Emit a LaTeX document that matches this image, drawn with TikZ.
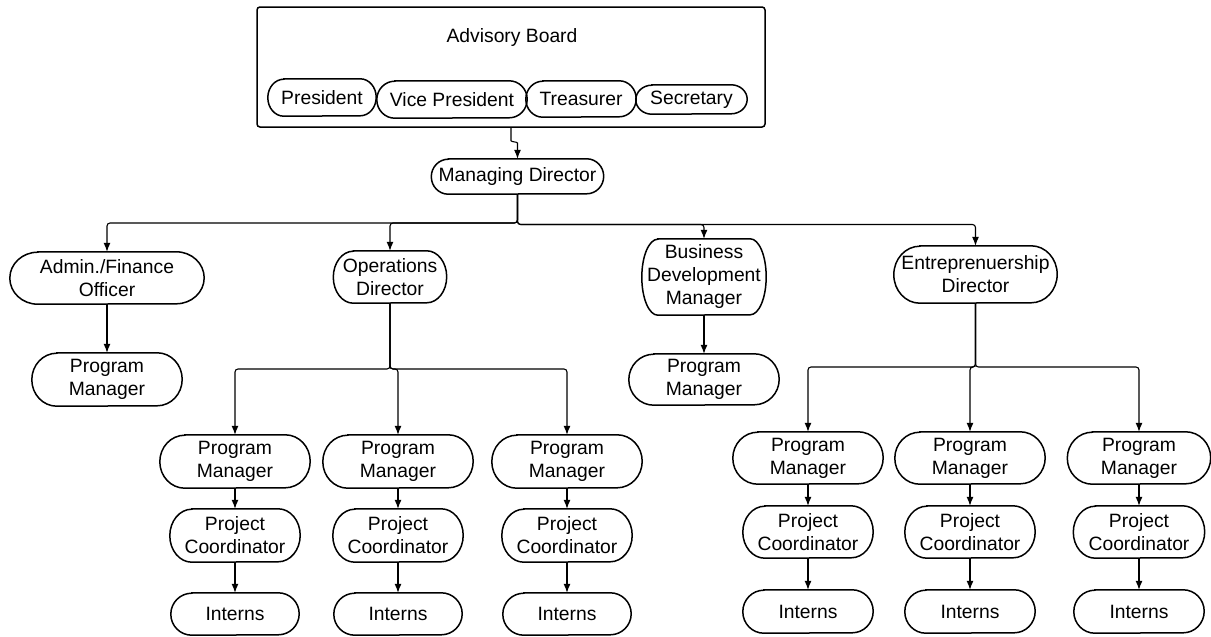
\documentclass[tikz,border=0pt]{standalone}
\usepackage{fontspec}
\setmainfont{Liberation Sans}
\usetikzlibrary{arrows.meta}

\tikzset{
  role/.style={inner sep=0pt, align=center, text=black,
    font=\fontsize{19.3}{23}\selectfont},
  outline/.style={line width=1.5pt, draw=black},
  conn/.style={line width=1.1pt, rounded corners=3pt,
    -{Latex[length=9pt,width=7pt]}},
}

% rounded terminator outline drawn round a named node: #2 = end x-radius, #3 = half height
\newcommand{\pilloutline}[3]{%
  \draw[outline] ([xshift=#2pt]#1.north west) -- ([xshift=-#2pt]#1.north east)
    arc[start angle=90,end angle=-90,x radius=#2pt,y radius=#3pt]
    -- ([xshift=#2pt]#1.south west)
    arc[start angle=270,end angle=90,x radius=#2pt,y radius=#3pt] -- cycle;}

\begin{document}
\begin{tikzpicture}[x=1pt,y=-1pt]
\useasboundingbox (0,0) rectangle (1211,637);

% Advisory board frame and its members
\node[outline, rounded corners=3pt, minimum width=508pt, minimum height=120pt, inner sep=0pt]
  (board) at (511,67) {};
\node[role] (boardtitle) at (512,38) {Advisory Board};
\node[role, minimum width=108pt, minimum height=37pt] (pres) at (322,97.5) {President};
\node[role, minimum width=150pt, minimum height=37pt] (vp) at (452,99.5) {Vice President};
\node[role, minimum width=110pt, minimum height=36pt] (treas) at (581,99) {Treasurer};
\node[role, minimum width=111pt, minimum height=29pt] (sec) at (691.5,99.5) {Secretary};

% Managing director
\node[role, minimum width=172pt, minimum height=35pt] (md) at (517.5,176.5) {Managing Director};

% Second level
\node[role, minimum width=194pt, minimum height=52pt] (admin) at (107,278) {Admin./Finance\\Officer};
\node[role, minimum width=150pt, minimum height=53pt] (apm) at (107,379.5) {Program\\Manager};
\node[role, minimum width=113pt, minimum height=52pt] (ops) at (390,277) {Operations\\Director};
\node[role, minimum width=124pt, minimum height=76pt] (bdm) at (704,277) {Business\\Development\\Manager};
\node[role, minimum width=150pt, minimum height=51pt] (bpm) at (704,379.5) {Program\\Manager};
\node[role, minimum width=163pt, minimum height=57pt] (entr) at (975.5,274.5) {Entreprenuership\\Director};

% Operations teams
\node[role, minimum width=150pt, minimum height=53pt] (opm1) at (235,461.5) {Program\\Manager};
\node[role, minimum width=150pt, minimum height=53pt] (opm2) at (398,461.5) {Program\\Manager};
\node[role, minimum width=150pt, minimum height=53pt] (opm3) at (567,461.5) {Program\\Manager};
\node[role, minimum width=130pt, minimum height=53pt] (opc1) at (235,535.5) {Project\\Coordinator};
\node[role, minimum width=130pt, minimum height=53pt] (opc2) at (398,535.5) {Project\\Coordinator};
\node[role, minimum width=130pt, minimum height=53pt] (opc3) at (567,535.5) {Project\\Coordinator};
\node[role, minimum width=128pt, minimum height=42pt] (oin1) at (235,614) {Interns};
\node[role, minimum width=128pt, minimum height=42pt] (oin2) at (398,614) {Interns};
\node[role, minimum width=128pt, minimum height=42pt] (oin3) at (567,614) {Interns};

% Entrepreneurship teams
\node[role, minimum width=150pt, minimum height=52pt] (epm1) at (808,458) {Program\\Manager};
\node[role, minimum width=150pt, minimum height=52pt] (epm2) at (970,458) {Program\\Manager};
\node[role, minimum width=143pt, minimum height=52pt] (epm3) at (1139,458) {Program\\Manager};
\node[role, minimum width=130pt, minimum height=52pt] (epc1) at (808,532) {Project\\Coordinator};
\node[role, minimum width=130pt, minimum height=52pt] (epc2) at (970,532) {Project\\Coordinator};
\node[role, minimum width=131pt, minimum height=52pt] (epc3) at (1139,532) {Project\\Coordinator};
\node[role, minimum width=130pt, minimum height=43pt] (ein1) at (808,611.5) {Interns};
\node[role, minimum width=130pt, minimum height=43pt] (ein2) at (970,611.5) {Interns};
\node[role, minimum width=130pt, minimum height=43pt] (ein3) at (1139,611.5) {Interns};

% Outlines
\foreach \n/\rx/\ry in {pres/16/18.5, vp/18/18.5, treas/17/18, sec/16/14.5,
    md/17/17.5, admin/28/26, apm/25/26.5, ops/20/26, bdm/16/38, bpm/25/25.5,
    entr/26/28.5,
    opm1/25/26.5, opm2/25/26.5, opm3/25/26.5,
    opc1/22/26.5, opc2/22/26.5, opc3/22/26.5,
    oin1/21/21, oin2/21/21, oin3/21/21,
    epm1/25/26, epm2/25/26, epm3/25/26,
    epc1/22/26, epc2/22/26, epc3/22/26,
    ein1/21/21.5, ein2/21/21.5, ein3/21/21.5}
  {\pilloutline{\n}{\rx}{\ry}}

% Board to managing director
\coordinate (hop) at (517.5,146);
\draw[conn] (board.south) -- ++(0,10) to[out=-90,in=90] (hop) -- (md.north);

% Managing director to second level
\coordinate (mdbusL) at (517.5,223);
\coordinate (mdbusR) at (517.5,224.5);
\draw[conn] (md.south) -- (mdbusL) -| (admin.north);
\draw[conn] (md.south) -- (mdbusL) -| (ops.north);
\draw[conn] (md.south) -- (mdbusR) -| (bdm.north);
\draw[conn] (md.south) -- (mdbusR) -| (entr.north);

\draw[conn] (admin.south) -- (apm.north);
\draw[conn] (bdm.south) -- (bpm.north);

% Operations branch
\coordinate (opsbus) at (390,369);
\draw[conn] (ops.south) -- (opsbus) -| (opm1.north);
\draw[conn] (ops.south) -- (opsbus) -| (opm2.north);
\draw[conn] (ops.south) -- (opsbus) -| (opm3.north);

% Entrepreneurship branch
\coordinate (entrbus) at (975.5,367);
\draw[conn] (entr.south) -- (entrbus) -| (epm1.north);
\draw[conn] (entr.south) -- (entrbus) -| (epm2.north);
\draw[conn] (entr.south) -- (entrbus) -| (epm3.north);

% Team chains
\foreach \p/\c/\i in {opm1/opc1/oin1, opm2/opc2/oin2, opm3/opc3/oin3,
    epm1/epc1/ein1, epm2/epc2/ein2, epm3/epc3/ein3}
  {\draw[conn] (\p.south) -- (\c.north);
   \draw[conn] (\c.south) -- (\i.north);}
\end{tikzpicture}
\end{document}
